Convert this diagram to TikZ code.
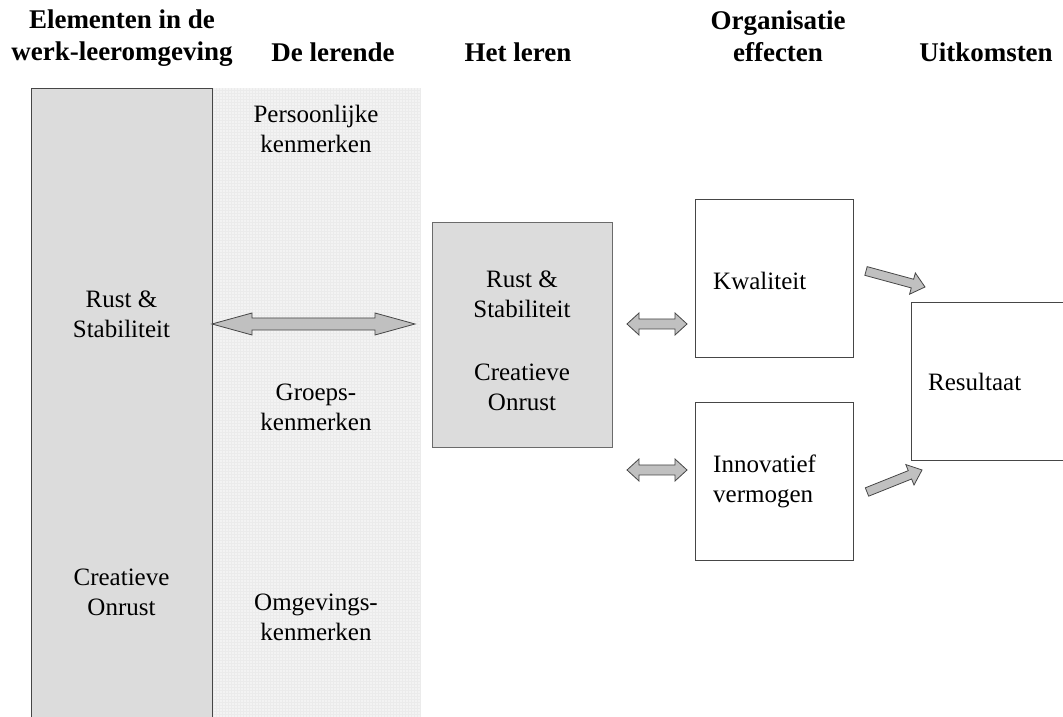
\documentclass[tikz,border=0pt]{standalone}
\usepackage{fontspec}
\setmainfont{Liberation Serif}
\usetikzlibrary{calc}

\definecolor{panel}{RGB}{220,220,220}
\definecolor{panellight}{RGB}{243,243,243}
\definecolor{panelgrid}{RGB}{235,235,235}
\definecolor{arrowfill}{RGB}{192,192,192}
\definecolor{edge}{RGB}{70,70,70}

\tikzset{
  x=1pt, y=1pt,
  % geometry of the block arrows: head length, head half width, shaft half width
  ahl/.store in=\ahl, ahw/.store in=\ahw, asw/.store in=\asw,
  ahl=12, ahw=11, asw=5,
  blockarrow/.style={draw=edge, line width=0.8pt, fill=arrowfill, line join=miter},
  twoway/.style={blockarrow, to path={
    let \p1=(\tikztostart), \p2=(\tikztotarget),
        \n1={veclen(\x2-\x1,\y2-\y1)}, \n2={(\x2-\x1)/\n1}, \n3={(\y2-\y1)/\n1} in
    ({\x1},{\y1})
    -- ({\x1+\ahl*\n2-\ahw*\n3},{\y1+\ahl*\n3+\ahw*\n2})
    -- ({\x1+\ahl*\n2-\asw*\n3},{\y1+\ahl*\n3+\asw*\n2})
    -- ({\x1+(\n1-\ahl)*\n2-\asw*\n3},{\y1+(\n1-\ahl)*\n3+\asw*\n2})
    -- ({\x1+(\n1-\ahl)*\n2-\ahw*\n3},{\y1+(\n1-\ahl)*\n3+\ahw*\n2})
    -- ({\x2},{\y2})
    -- ({\x1+(\n1-\ahl)*\n2+\ahw*\n3},{\y1+(\n1-\ahl)*\n3-\ahw*\n2})
    -- ({\x1+(\n1-\ahl)*\n2+\asw*\n3},{\y1+(\n1-\ahl)*\n3-\asw*\n2})
    -- ({\x1+\ahl*\n2+\asw*\n3},{\y1+\ahl*\n3-\asw*\n2})
    -- ({\x1+\ahl*\n2+\ahw*\n3},{\y1+\ahl*\n3-\ahw*\n2})
    -- cycle}},
  oneway/.style={blockarrow, to path={
    let \p1=(\tikztostart), \p2=(\tikztotarget),
        \n1={veclen(\x2-\x1,\y2-\y1)}, \n2={(\x2-\x1)/\n1}, \n3={(\y2-\y1)/\n1} in
    ({\x1-\asw*\n3},{\y1+\asw*\n2})
    -- ({\x1+(\n1-\ahl)*\n2-\asw*\n3},{\y1+(\n1-\ahl)*\n3+\asw*\n2})
    -- ({\x1+(\n1-\ahl)*\n2-\ahw*\n3},{\y1+(\n1-\ahl)*\n3+\ahw*\n2})
    -- ({\x2},{\y2})
    -- ({\x1+(\n1-\ahl)*\n2+\ahw*\n3},{\y1+(\n1-\ahl)*\n3-\ahw*\n2})
    -- ({\x1+(\n1-\ahl)*\n2+\asw*\n3},{\y1+(\n1-\ahl)*\n3-\asw*\n2})
    -- ({\x1+\asw*\n3},{\y1-\asw*\n2})
    -- cycle}},
  head/.style={font=\fontsize{27}{32}\selectfont\bfseries, align=center, inner sep=0pt},
  lbl/.style={font=\fontsize{25}{30}\selectfont, align=center, inner sep=0pt},
  lbll/.style={font=\fontsize{25}{30}\selectfont, align=left, inner sep=0pt},
  box/.style={draw=edge, line width=1pt, fill=white, inner sep=0pt},
}

\begin{document}
\begin{tikzpicture}
\useasboundingbox (0,0) rectangle (1063,717);
\clip (0,0) rectangle (1063,717);
\fill[white] (0,0) rectangle (1063,717);

% column headings
\node[head] (h1) at (122,679) {Elementen in de\\werk-leeromgeving};
\node[head] (h2) at (333,665) {De lerende};
\node[head] (h3) at (518,665) {Het leren};
\node[head] (h4) at (778,681) {Organisatie\\effecten};
\node[head] (h5) at (986,665) {Uitkomsten};

% the learner: light textured column
\node[fill=panellight, minimum width=208pt, minimum height=634pt, anchor=north west, inner sep=0pt] (col2) at (212,629) {};
\draw[panelgrid, line width=0.3pt] (212,-5) grid[step=3pt] (420,629);

% work-learning environment: grey column
\node[fill=panel, draw=edge, line width=1pt, minimum width=181pt, minimum height=634pt, anchor=north west, inner sep=0pt] (col1) at (31,629) {};

\node[lbl] (c1a) at (121.5,403) {Rust \&\\Stabiliteit};
\node[lbl] (c1b) at (121.5,125) {Creatieve\\Onrust};

\node[lbl] (c2a) at (316,588) {Persoonlijke\\kenmerken};
\node[lbl] (c2b) at (316,310) {Groeps-\\kenmerken};
\node[lbl] (c2c) at (316,100) {Omgevings-\\kenmerken};

% learning
\node[box, fill=panel, draw=edge!80, minimum width=180pt, minimum height=225pt] (mid) at (522,381.5) {};
\node[lbl] (mida) at (522,423) {Rust \&\\Stabiliteit};
\node[lbl] (midb) at (522,330) {Creatieve\\Onrust};

% organisation effects
\node[box, minimum width=158pt, minimum height=158pt] (kw) at (774,438) {};
\node[lbll, anchor=base west] (kwt) at (713,427) {Kwaliteit};
\node[box, minimum width=158pt, minimum height=158pt] (inn) at (774,235) {};
\node[lbll, anchor=west] (innt) at (713,236) {Innovatief\\vermogen};

% outcome
\node[box, minimum width=180pt, minimum height=158pt, anchor=north west] (res) at (911,415) {};
\node[lbll, anchor=base west] (rest) at (928,326) {Resultaat};

% arrow end points
\coordinate (bl) at (212,393);
\coordinate (br) at (415,393);
\coordinate (ul) at (627,393);
\coordinate (ur) at (687,393);
\coordinate (dl) at (627,247);
\coordinate (dr) at (687,247);
\coordinate (kwo) at (866,446);
\coordinate (resi) at (925,430);
\coordinate (inno) at (867,225);
\coordinate (resj) at (922,247);

\draw[twoway, ahl=40, ahw=11, asw=6] (bl) to (br);
\draw[twoway] (ul) to (ur);
\draw[twoway] (dl) to (dr);
\draw[oneway, ahl=13, ahw=11, asw=4.5] (kwo) to (resi);
\draw[oneway, ahl=13, ahw=11, asw=4.5] (inno) to (resj);
\end{tikzpicture}
\end{document}
